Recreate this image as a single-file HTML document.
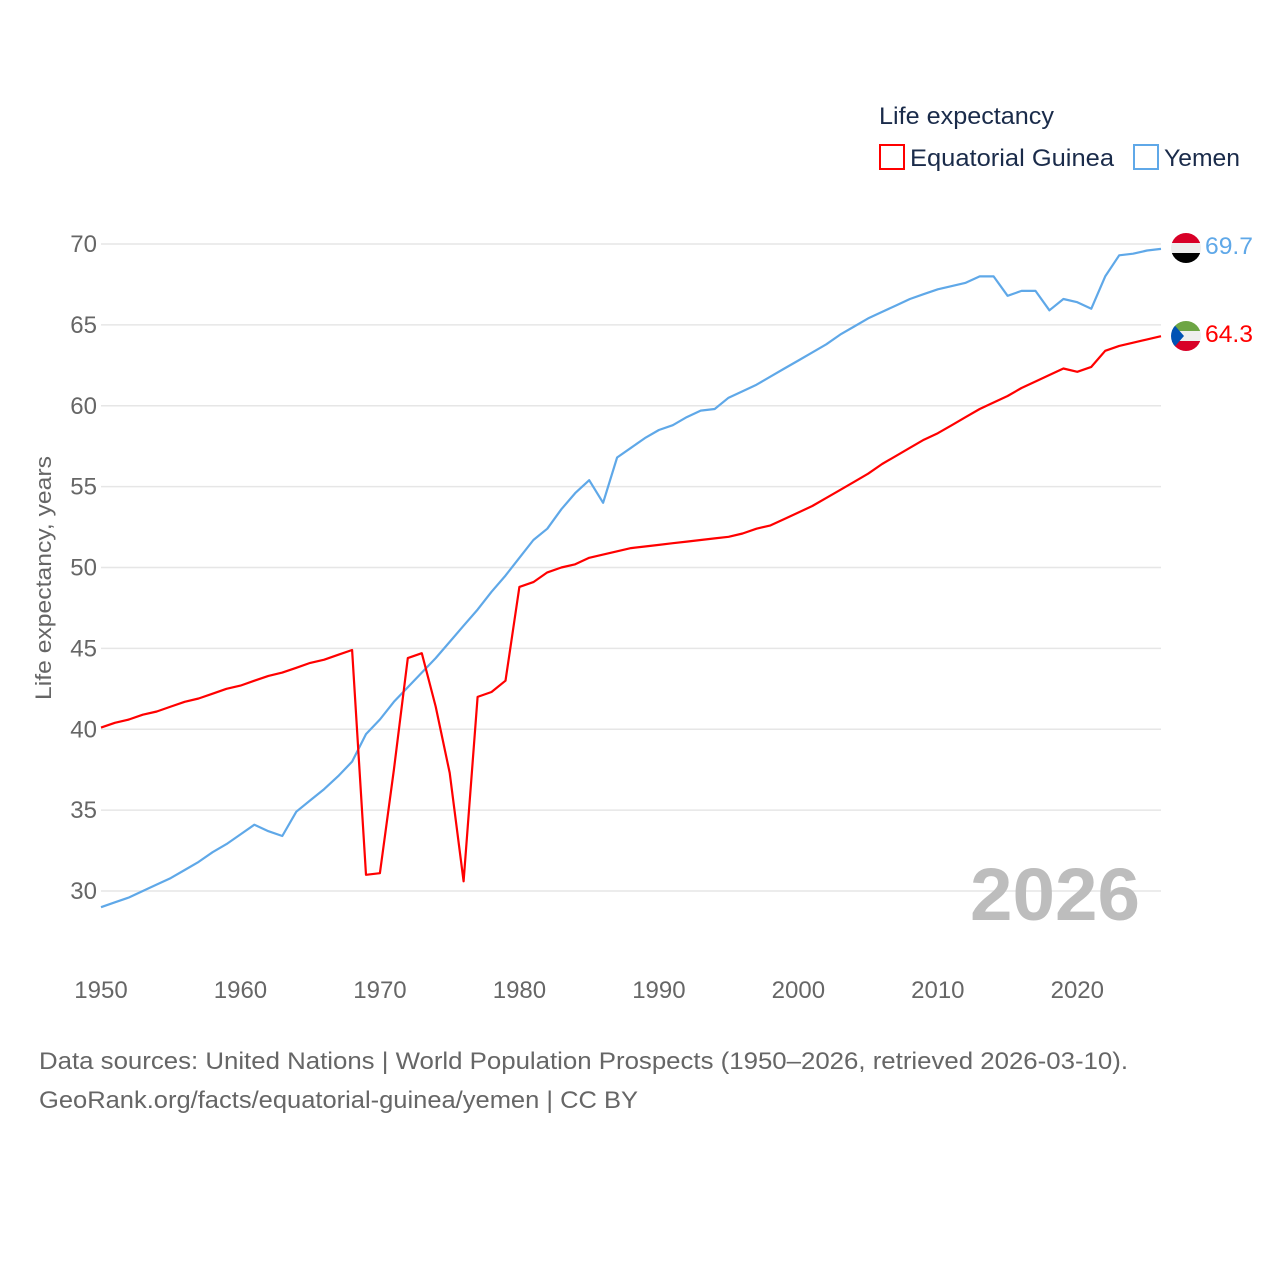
<!DOCTYPE html>
<html><head><meta charset="utf-8"><style>
body{margin:0;background:#fff;}
svg text{font-family:"Liberation Sans",sans-serif;}
</style></head><body>
<svg id="chart" width="1280" height="1280" viewBox="0 0 1280 1280">
<rect width="1280" height="1280" fill="#fff"/>
<g id="grid"></g>
<g id="yticks"></g>
<g id="xticks"></g>
<text x="51" y="578" transform="rotate(-90 51 578)" text-anchor="middle" font-size="22" fill="#666" textLength="244" lengthAdjust="spacingAndGlyphs">Life expectancy, years</text>
<text x="970" y="920" font-size="74" font-weight="bold" fill="#bdbdbd" textLength="170" lengthAdjust="spacingAndGlyphs">2026</text>
<g id="lines"></g>
<g>
<text x="879" y="124" font-size="24" fill="#1a2b4a" textLength="175" lengthAdjust="spacingAndGlyphs">Life expectancy</text>
<g>
<rect x="880" y="145" width="24" height="24" fill="none" stroke="#ff0000" stroke-width="2"/>
<text x="910" y="166" font-size="24" fill="#1a2b4a" textLength="204" lengthAdjust="spacingAndGlyphs">Equatorial Guinea</text></g>
<g>
<rect x="1134" y="145" width="24" height="24" fill="none" stroke="#5fa8e8" stroke-width="2"/>
<text x="1164" y="166" font-size="24" fill="#1a2b4a" textLength="76" lengthAdjust="spacingAndGlyphs">Yemen</text></g>
</g>
<defs>
<clipPath id="c1"><circle cx="1186" cy="248" r="15"/></clipPath>
<clipPath id="c2"><circle cx="1186" cy="336" r="15"/></clipPath>
</defs>
<g clip-path="url(#c1)">
<rect x="1170" y="232" width="32" height="11" fill="#d80027"/>
<rect x="1170" y="243" width="32" height="10" fill="#eee"/>
<rect x="1170" y="253" width="32" height="11" fill="#000"/>
</g>
<g clip-path="url(#c2)">
<rect x="1170" y="320" width="32" height="11" fill="#6da544"/>
<rect x="1170" y="331" width="32" height="10" fill="#eee"/>
<rect x="1170" y="341" width="32" height="11" fill="#d80027"/>
<polygon points="1170,320 1184,336 1170,352" fill="#0052b4"/>
</g>
<text x="1205" y="254" font-size="24" fill="#5fa8e8" textLength="48" lengthAdjust="spacingAndGlyphs">69.7</text>
<text x="1205" y="342" font-size="24" fill="#ff0000" textLength="48" lengthAdjust="spacingAndGlyphs">64.3</text>
<text x="39" y="1069" font-size="24" fill="#666" textLength="1089" lengthAdjust="spacingAndGlyphs">Data sources: United Nations | World Population Prospects (1950–2026, retrieved 2026-03-10).</text>
<text x="39" y="1108" font-size="24" fill="#666" textLength="599" lengthAdjust="spacingAndGlyphs">GeoRank.org/facts/equatorial-guinea/yemen | CC BY</text>
</svg>
<script>
const years = [];
for (let y = 1950; y <= 2026; y++) years.push(y);
const guinea = [40.1,40.4,40.6,40.9,41.1,41.4,41.7,41.9,42.2,42.5,42.7,43.0,43.3,43.5,43.8,44.1,44.3,44.6,44.9,31.0,31.1,37.5,44.4,44.7,41.4,37.3,30.6,42.0,42.3,43.0,48.8,49.1,49.7,50.0,50.2,50.6,50.8,51.0,51.2,51.3,51.4,51.5,51.6,51.7,51.8,51.9,52.1,52.4,52.6,53.0,53.4,53.8,54.3,54.8,55.3,55.8,56.4,56.9,57.4,57.9,58.3,58.8,59.3,59.8,60.2,60.6,61.1,61.5,61.9,62.3,62.1,62.4,63.4,63.7,63.9,64.1,64.3];
const yemen = [29.0,29.3,29.6,30.0,30.4,30.8,31.3,31.8,32.4,32.9,33.5,34.1,33.7,33.4,34.9,35.6,36.3,37.1,38.0,39.7,40.6,41.7,42.6,43.5,44.4,45.4,46.4,47.4,48.5,49.5,50.6,51.7,52.4,53.6,54.6,55.4,54.0,56.8,57.4,58.0,58.5,58.8,59.3,59.7,59.8,60.5,60.9,61.3,61.8,62.3,62.8,63.3,63.8,64.4,64.9,65.4,65.8,66.2,66.6,66.9,67.2,67.4,67.6,68.0,68.0,66.8,67.1,67.1,65.9,66.6,66.4,66.0,68.0,69.3,69.4,69.6,69.7];
const yTicks = [30,35,40,45,50,55,60,65,70];
const xTicks = [1950,1960,1970,1980,1990,2000,2010,2020];

const NS = "http://www.w3.org/2000/svg";
const xS = y => 101 + (y - 1950) * (1161 - 101) / 76;
const yS = v => 244 + (70 - v) * (891 - 244) / 40;
function mk(tag, attrs, parent){const e=document.createElementNS(NS,tag);for(const k in attrs)e.setAttribute(k,attrs[k]);parent.appendChild(e);return e;}
const grid=document.getElementById('grid'), yt=document.getElementById('yticks'), xt=document.getElementById('xticks'), lines=document.getElementById('lines');
yTicks.forEach(v=>{
  const l=mk('line',{x1:101,x2:1161,y1:yS(v),y2:yS(v),stroke:'#e6e6e6','stroke-width':1.5},grid);
  
  
  const t=mk('text',{x:97,y:yS(v)+8,'text-anchor':'end','font-size':24,fill:'#666'},yt);
  t.textContent=v;
  
  
});
xTicks.forEach(y=>{
  const t=mk('text',{x:xS(y),y:998,'text-anchor':'middle','font-size':24,fill:'#666'},xt);
  t.textContent=y;
  
  
});
function drawLine(vals,color,name){
  const d=vals.map((v,i)=>(i?'L':'M')+xS(years[i]).toFixed(1)+','+yS(v).toFixed(1)).join('');
  const p=mk('path',{d:d,fill:'none',stroke:color,'stroke-width':2.2,'stroke-linejoin':'round'},lines);
  
  
}
drawLine(yemen,'#5fa8e8','yemen-line');
drawLine(guinea,'#ff0000','equatorial-guinea-line');
</script>
</body></html>
